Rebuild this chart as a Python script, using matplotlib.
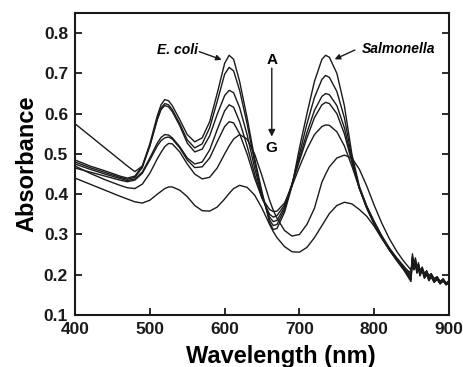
import matplotlib
matplotlib.use("Agg")
import matplotlib.pyplot as plt

plt.rcParams['font.family'] = ['Liberation Sans', 'DejaVu Sans']

# Shared wavelength grid (nm): smooth part + noisy detector tail
wavelength = [400, 420, 440, 460, 470, 480, 490, 500, 510, 515, 520, 525, 530, 540, 550,
              560, 570, 580, 590, 600, 606, 612, 620, 630, 640, 650, 660, 665, 670,
              680, 690, 700, 710, 720, 730, 735, 740, 750, 760, 770, 780, 790, 800,
              810, 820, 830, 840, 849,
              851, 853, 855, 857, 859, 861, 864, 867, 870, 873, 876, 880, 884, 888, 892, 896, 900]

curve_A = [0.485, 0.470, 0.458, 0.445, 0.440, 0.445, 0.470, 0.525, 0.595, 0.622, 0.635, 0.632, 0.620, 0.585, 0.548,
           0.530, 0.540, 0.580, 0.650, 0.725, 0.745, 0.735, 0.680, 0.590, 0.490, 0.405, 0.330, 0.312, 0.315,
           0.355, 0.420, 0.515, 0.600, 0.680, 0.735, 0.745, 0.740, 0.700, 0.620, 0.500, 0.420, 0.370, 0.330,
           0.295, 0.262, 0.235, 0.210, 0.183,
           0.238, 0.214, 0.230, 0.205, 0.222, 0.200, 0.214, 0.194, 0.206, 0.188, 0.200, 0.184, 0.193, 0.180, 0.189, 0.178, 0.184]
curve_B = [0.480, 0.466, 0.454, 0.442, 0.437, 0.442, 0.466, 0.520, 0.588, 0.614, 0.625, 0.622, 0.610, 0.575, 0.535,
           0.515, 0.525, 0.565, 0.630, 0.698, 0.715, 0.706, 0.658, 0.575, 0.480, 0.400, 0.336, 0.322, 0.325,
           0.362, 0.425, 0.500, 0.575, 0.640, 0.685, 0.695, 0.690, 0.655, 0.590, 0.490, 0.415, 0.365, 0.325,
           0.292, 0.262, 0.236, 0.212, 0.188,
           0.252, 0.222, 0.242, 0.212, 0.230, 0.204, 0.219, 0.196, 0.210, 0.190, 0.202, 0.185, 0.195, 0.181, 0.190, 0.178, 0.186]
curve_C = [0.575, 0.545, 0.515, 0.485, 0.470, 0.456, 0.470, 0.520, 0.585, 0.610, 0.620, 0.617, 0.605, 0.570, 0.527,
           0.505, 0.512, 0.545, 0.598, 0.645, 0.658, 0.652, 0.615, 0.548, 0.465, 0.395, 0.343, 0.332, 0.335,
           0.368, 0.425, 0.490, 0.553, 0.608, 0.643, 0.650, 0.647, 0.620, 0.565, 0.485, 0.415, 0.365, 0.326,
           0.292, 0.262, 0.238, 0.214, 0.190,
           0.244, 0.226, 0.238, 0.210, 0.226, 0.203, 0.217, 0.198, 0.208, 0.191, 0.199, 0.186, 0.191, 0.180, 0.186, 0.177, 0.183]
curve_D = [0.475, 0.462, 0.450, 0.439, 0.434, 0.438, 0.455, 0.490, 0.527, 0.541, 0.548, 0.547, 0.540, 0.518, 0.490,
           0.475, 0.480, 0.510, 0.560, 0.607, 0.622, 0.616, 0.580, 0.520, 0.450, 0.390, 0.350, 0.343, 0.347,
           0.373, 0.425, 0.483, 0.540, 0.590, 0.622, 0.628, 0.625, 0.600, 0.550, 0.480, 0.415, 0.367, 0.328,
           0.294, 0.264, 0.240, 0.217, 0.195,
           0.236, 0.220, 0.232, 0.208, 0.224, 0.201, 0.213, 0.195, 0.205, 0.189, 0.197, 0.183, 0.192, 0.179, 0.187, 0.176, 0.182]
curve_E = [0.465, 0.455, 0.445, 0.435, 0.431, 0.435, 0.452, 0.485, 0.520, 0.533, 0.540, 0.542, 0.537, 0.515, 0.485,
           0.466, 0.468, 0.490, 0.530, 0.568, 0.580, 0.577, 0.550, 0.500, 0.440, 0.390, 0.362, 0.357, 0.358,
           0.378, 0.420, 0.468, 0.512, 0.548, 0.568, 0.572, 0.571, 0.555, 0.520, 0.470, 0.415, 0.370, 0.332,
           0.297, 0.267, 0.242, 0.220, 0.200,
           0.246, 0.218, 0.236, 0.209, 0.221, 0.199, 0.215, 0.193, 0.203, 0.187, 0.198, 0.182, 0.190, 0.178, 0.186, 0.175, 0.181]
curve_F = [0.470, 0.452, 0.436, 0.422, 0.416, 0.414, 0.425, 0.452, 0.488, 0.504, 0.518, 0.526, 0.525, 0.505, 0.475,
           0.450, 0.438, 0.442, 0.465, 0.500, 0.520, 0.537, 0.548, 0.537, 0.500, 0.445, 0.385, 0.360, 0.340,
           0.310, 0.296, 0.300, 0.325, 0.365, 0.430, 0.450, 0.468, 0.490, 0.497, 0.490, 0.462, 0.420, 0.372,
           0.328, 0.290, 0.258, 0.232, 0.212,
           0.240, 0.228, 0.234, 0.220, 0.226, 0.212, 0.218, 0.204, 0.209, 0.198, 0.203, 0.191, 0.195, 0.184, 0.189, 0.180, 0.183]
curve_G = [0.440, 0.425, 0.410, 0.395, 0.388, 0.381, 0.378, 0.385, 0.400, 0.407, 0.414, 0.418, 0.418, 0.410, 0.394,
           0.372, 0.359, 0.358, 0.368, 0.388, 0.402, 0.414, 0.422, 0.417, 0.398, 0.365, 0.325, 0.307, 0.292,
           0.270, 0.257, 0.256, 0.268, 0.292, 0.322, 0.337, 0.352, 0.372, 0.380, 0.376, 0.362, 0.345, 0.320,
           0.290, 0.262, 0.238, 0.216, 0.205,
           0.232, 0.212, 0.226, 0.204, 0.218, 0.197, 0.210, 0.191, 0.200, 0.185, 0.194, 0.181, 0.188, 0.177, 0.184, 0.175, 0.180]

curves = [curve_A, curve_B, curve_C, curve_D, curve_E, curve_F, curve_G]

x_ticks = [400, 500, 600, 700, 800, 900]
y_ticks = [0.1, 0.2, 0.3, 0.4, 0.5, 0.6, 0.7, 0.8]

fig = plt.figure(figsize=(4.63, 3.67), dpi=100)
ax = fig.add_axes([0.162, 0.1417, 0.808, 0.824])

for c in curves:
    ax.plot(wavelength, c, color='#1a1a1a', lw=1.0)

ax.set_xlim(400, 900)
ax.set_ylim(0.1, 0.851)
ax.set_xticks(x_ticks)
ax.set_yticks(y_ticks)
ax.set_xticklabels([str(t) for t in x_ticks], fontsize=12.5, fontweight='bold')
ax.set_yticklabels([f"{t:.1f}" for t in y_ticks], fontsize=12.5, fontweight='bold')
ax.tick_params(axis='both', direction='in', length=5, width=1.3, pad=5, colors='#1a1a1a')
ax.tick_params(axis='y', right=True, labelright=False)
for s in ax.spines.values():
    s.set_linewidth(1.5)
    s.set_color('#1a1a1a')

ax.set_xlabel('Wavelength (nm)', fontsize=17, fontweight='bold')
ax.xaxis.set_label_coords(0.55, -0.098)
ax.set_ylabel('Absorbance', fontsize=17, fontweight='bold', labelpad=4)

ax.text(537, 0.758, 'E. coli', fontsize=10, fontweight='bold', style='italic',
        ha='center', va='center')
ax.annotate('', xy=(596, 0.734), xytext=(566, 0.754),
            arrowprops=dict(arrowstyle='-|>', color='#1a1a1a', lw=1.0, mutation_scale=8,
                            shrinkA=0, shrinkB=0))
ax.text(832, 0.760, 'Salmonella', fontsize=10, fontweight='bold', style='italic',
        ha='center', va='center')
ax.annotate('', xy=(747, 0.735), xytext=(774, 0.758),
            arrowprops=dict(arrowstyle='-|>', color='#1a1a1a', lw=1.0, mutation_scale=8,
                            shrinkA=0, shrinkB=0))

ax.text(663, 0.734, 'A', fontsize=11, fontweight='bold', ha='center', va='center')
ax.text(663, 0.514, 'G', fontsize=11, fontweight='bold', ha='center', va='center')
ax.annotate('', xy=(663, 0.543), xytext=(663, 0.713),
            arrowprops=dict(arrowstyle='-|>', color='#1a1a1a', lw=1.0, mutation_scale=10,
                            shrinkA=0, shrinkB=0))

fig.savefig('out.png', dpi=100)
